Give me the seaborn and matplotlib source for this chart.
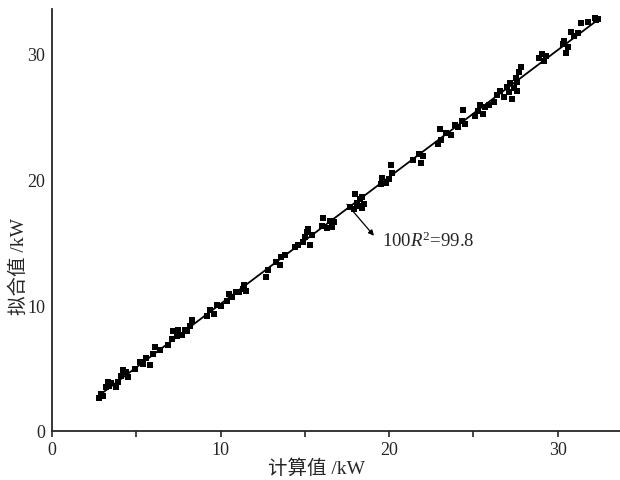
import numpy as np
import pandas as pd
import matplotlib
matplotlib.use('Agg')
import matplotlib.pyplot as plt
import seaborn as sns

# 计算值 / 拟合值 (kW)
calc_kw = [2.8, 2.9, 3.0, 3.2, 3.3, 3.4, 3.5, 3.8, 3.9, 4.1, 4.2, 4.4, 4.5, 4.9,
           5.2, 5.4, 5.6, 5.8, 6.0, 6.1, 6.4, 6.9, 7.1, 7.2, 7.4, 7.5, 7.7, 7.9,
           8.0, 8.2, 8.3, 9.2, 9.4, 9.6, 9.8, 10.0, 10.4, 10.5, 10.7, 10.9, 11.1,
           11.3, 11.4, 11.5, 12.7, 12.8, 13.3, 13.5, 13.6, 13.8, 14.4, 14.6, 14.9,
           15.0, 15.1, 15.2, 15.3, 15.4, 16.0, 16.1, 16.3, 16.5, 16.6, 16.7, 17.7,
           17.9, 18.0, 18.1, 18.2, 18.3, 18.4, 18.5, 18.4, 19.5, 19.6, 19.8, 20.0,
           20.1, 20.2, 21.4, 21.8, 21.9, 22.0, 22.9, 23.0, 23.1, 23.4, 23.7, 23.9,
           24.1, 24.3, 24.4, 24.5, 25.1, 25.3, 25.4, 25.6, 25.7, 25.9, 26.2, 26.4,
           26.6, 26.8, 27.0, 27.1, 27.2, 27.4, 27.5, 27.6, 27.7, 27.8, 27.6, 27.3,
           28.9, 29.1, 29.3, 29.2, 30.3, 30.4, 30.5, 30.6, 30.8, 31.0, 31.2, 31.4,
           31.8, 32.2, 32.3, 32.4]
fit_kw = [2.6, 2.9, 2.8, 3.5, 3.9, 3.6, 3.8, 3.5, 3.9, 4.4, 4.8, 4.7, 4.3, 4.9,
          5.5, 5.3, 5.8, 5.2, 6.1, 6.7, 6.4, 6.8, 7.3, 7.9, 7.5, 8.0, 7.6, 8.0,
          7.9, 8.3, 8.8, 9.1, 9.6, 9.3, 10.0, 9.9, 10.3, 10.9, 10.6, 11.0, 11.0,
          11.3, 11.6, 11.1, 12.2, 12.8, 13.4, 13.2, 13.8, 14.0, 14.6, 14.8, 15.0,
          15.4, 15.8, 16.0, 14.8, 15.6, 16.3, 16.9, 16.1, 16.7, 16.2, 16.6, 17.8,
          17.6, 18.8, 18.1, 17.9, 18.4, 18.6, 18.0, 17.7, 19.6, 20.1, 19.7, 20.0,
          21.1, 20.5, 21.5, 22.0, 21.3, 21.8, 22.8, 24.0, 23.1, 23.7, 23.5, 24.3,
          24.1, 24.6, 25.5, 24.4, 25.0, 25.4, 25.9, 25.2, 25.7, 25.9, 26.1, 26.7,
          27.0, 26.5, 27.3, 26.9, 27.6, 27.2, 28.0, 27.7, 28.5, 28.9, 27.0, 26.4,
          29.6, 29.9, 29.8, 29.4, 30.7, 31.0, 30.0, 30.5, 31.7, 31.4, 31.6, 32.4,
          32.5, 32.8, 32.6, 32.7]
r2_text = '100$R^2$=99.8'

df = pd.DataFrame({'calc': calc_kw, 'fit': fit_kw})

sns.set_style('ticks')
plt.rcParams['font.family'] = ['Liberation Serif', 'Noto Sans CJK SC']
plt.rcParams['mathtext.fontset'] = 'custom'
plt.rcParams['mathtext.rm'] = 'Liberation Serif'
plt.rcParams['mathtext.it'] = 'Liberation Serif:italic'

fig = plt.figure(figsize=(6.2, 4.81), dpi=100)
ax = fig.add_axes([0.084, 0.102, 0.916, 0.877])

sns.regplot(data=df, x='calc', y='fit', ax=ax, ci=None, marker='s',
            scatter_kws={'s': 16, 'color': 'black', 'linewidths': 0, 'alpha': 1},
            line_kws={'color': 'black', 'linewidth': 1.3})

ax.set_xlim(0, 33.7)
ax.set_ylim(0, 33.5)
ax.set_xticks([0, 10, 20, 30])
ax.set_xticks([5, 15, 25], minor=True)
ax.set_yticks([0, 10, 20, 30])
ax.tick_params(axis='x', which='both', direction='out', length=4, width=1.2, labelsize=13, pad=3)
ax.tick_params(axis='y', length=0, labelsize=13, pad=5)
for s in ['top', 'right']:
    ax.spines[s].set_visible(False)
for s in ['left', 'bottom']:
    ax.spines[s].set_linewidth(1.3)

ax.set_xlabel('计算值 /kW', fontsize=14)
ax.set_ylabel('拟合值 /kW', fontsize=14)
ax.xaxis.set_label_coords(0.465, -0.064)
ax.yaxis.set_label_coords(-0.042, 0.393)

# 引线 + 标注
ax.annotate('', xy=(19.1, 15.5), xytext=(17.5, 18.0),
            arrowprops=dict(arrowstyle='-|>', color='black', lw=0.9, shrinkA=0, shrinkB=0,
                            mutation_scale=8))
ax.text(19.6, 15.1, r2_text, fontsize=13.5, va='center', ha='left')

fig.savefig('out.png', dpi=100)
